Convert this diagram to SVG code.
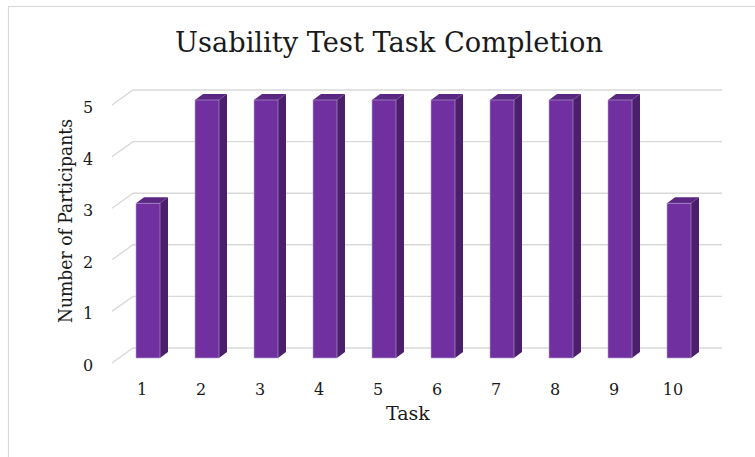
<svg xmlns="http://www.w3.org/2000/svg" width="755" height="457" viewBox="0 0 755 457">
<style>
text{font-family:"DejaVu Serif","Liberation Serif",serif;fill:#1a1a1a}
.grid{stroke:#d9d9d9;stroke-width:1.4;fill:none}
.front{fill:#7030a0;stroke:#b9a1d4;stroke-width:0.6}
.side{fill:#4b1f6c}
.top{fill:#5a2783}
.tick{font-size:16px;text-anchor:middle}
</style>
<rect x="0" y="0" width="755" height="457" fill="#ffffff"/>
<rect x="8.5" y="6.5" width="800" height="500" fill="none" stroke="#d9d9d9" stroke-width="1.2"/>
<text x="389" y="52" font-size="27" text-anchor="middle" textLength="428" lengthAdjust="spacingAndGlyphs">Usability Test Task Completion</text>
<g id="gridlines">
<path class="grid" d="M112,105 L133,90 H722"/>
<path class="grid" d="M112,156.6 L133,141.6 H722"/>
<path class="grid" d="M112,208.2 L133,193.2 H722"/>
<path class="grid" d="M112,259.8 L133,244.8 H722"/>
<path class="grid" d="M112,311.4 L133,296.4 H722"/>
<path class="grid" d="M112,363 L133,348 H722"/>
</g>
<g id="y-ticks">
<text class="tick" x="88" y="113">5</text>
<text class="tick" x="88" y="164.6">4</text>
<text class="tick" x="88" y="216.2">3</text>
<text class="tick" x="88" y="267.8">2</text>
<text class="tick" x="88" y="319.4">1</text>
<text class="tick" x="88" y="371">0</text>
</g>
<g id="bars">
<g id="bar1"><polygon class="side" points="160,203.2 168,197.2 168,352 160,358"/><polygon class="top" points="136,203.2 144,197.2 168,197.2 160,203.2"/><rect class="front" x="136" y="203.2" width="24" height="154.8"/></g>
<g id="bar2"><polygon class="side" points="219,100 227,94 227,352 219,358"/><polygon class="top" points="195,100 203,94 227,94 219,100"/><rect class="front" x="195" y="100" width="24" height="258"/></g>
<g id="bar3"><polygon class="side" points="278,100 286,94 286,352 278,358"/><polygon class="top" points="254,100 262,94 286,94 278,100"/><rect class="front" x="254" y="100" width="24" height="258"/></g>
<g id="bar4"><polygon class="side" points="337,100 345,94 345,352 337,358"/><polygon class="top" points="313,100 321,94 345,94 337,100"/><rect class="front" x="313" y="100" width="24" height="258"/></g>
<g id="bar5"><polygon class="side" points="396,100 404,94 404,352 396,358"/><polygon class="top" points="372,100 380,94 404,94 396,100"/><rect class="front" x="372" y="100" width="24" height="258"/></g>
<g id="bar6"><polygon class="side" points="455,100 463,94 463,352 455,358"/><polygon class="top" points="431,100 439,94 463,94 455,100"/><rect class="front" x="431" y="100" width="24" height="258"/></g>
<g id="bar7"><polygon class="side" points="514,100 522,94 522,352 514,358"/><polygon class="top" points="490,100 498,94 522,94 514,100"/><rect class="front" x="490" y="100" width="24" height="258"/></g>
<g id="bar8"><polygon class="side" points="573,100 581,94 581,352 573,358"/><polygon class="top" points="549,100 557,94 581,94 573,100"/><rect class="front" x="549" y="100" width="24" height="258"/></g>
<g id="bar9"><polygon class="side" points="632,100 640,94 640,352 632,358"/><polygon class="top" points="608,100 616,94 640,94 632,100"/><rect class="front" x="608" y="100" width="24" height="258"/></g>
<g id="bar10"><polygon class="side" points="691,203.2 699,197.2 699,352 691,358"/><polygon class="top" points="667,203.2 675,197.2 699,197.2 691,203.2"/><rect class="front" x="667" y="203.2" width="24" height="154.8"/></g>
</g>
<g id="x-ticks">
<text class="tick" x="142" y="395">1</text>
<text class="tick" x="201" y="395">2</text>
<text class="tick" x="260" y="395">3</text>
<text class="tick" x="319" y="395">4</text>
<text class="tick" x="378" y="395">5</text>
<text class="tick" x="437" y="395">6</text>
<text class="tick" x="496" y="395">7</text>
<text class="tick" x="555" y="395">8</text>
<text class="tick" x="614" y="395">9</text>
<text class="tick" x="673" y="395">10</text>
</g>
<text x="408" y="420" font-size="19" text-anchor="middle">Task</text>
<text transform="translate(72,221) rotate(-90)" font-size="19" text-anchor="middle" textLength="204" lengthAdjust="spacingAndGlyphs">Number of Participants</text>
</svg>
